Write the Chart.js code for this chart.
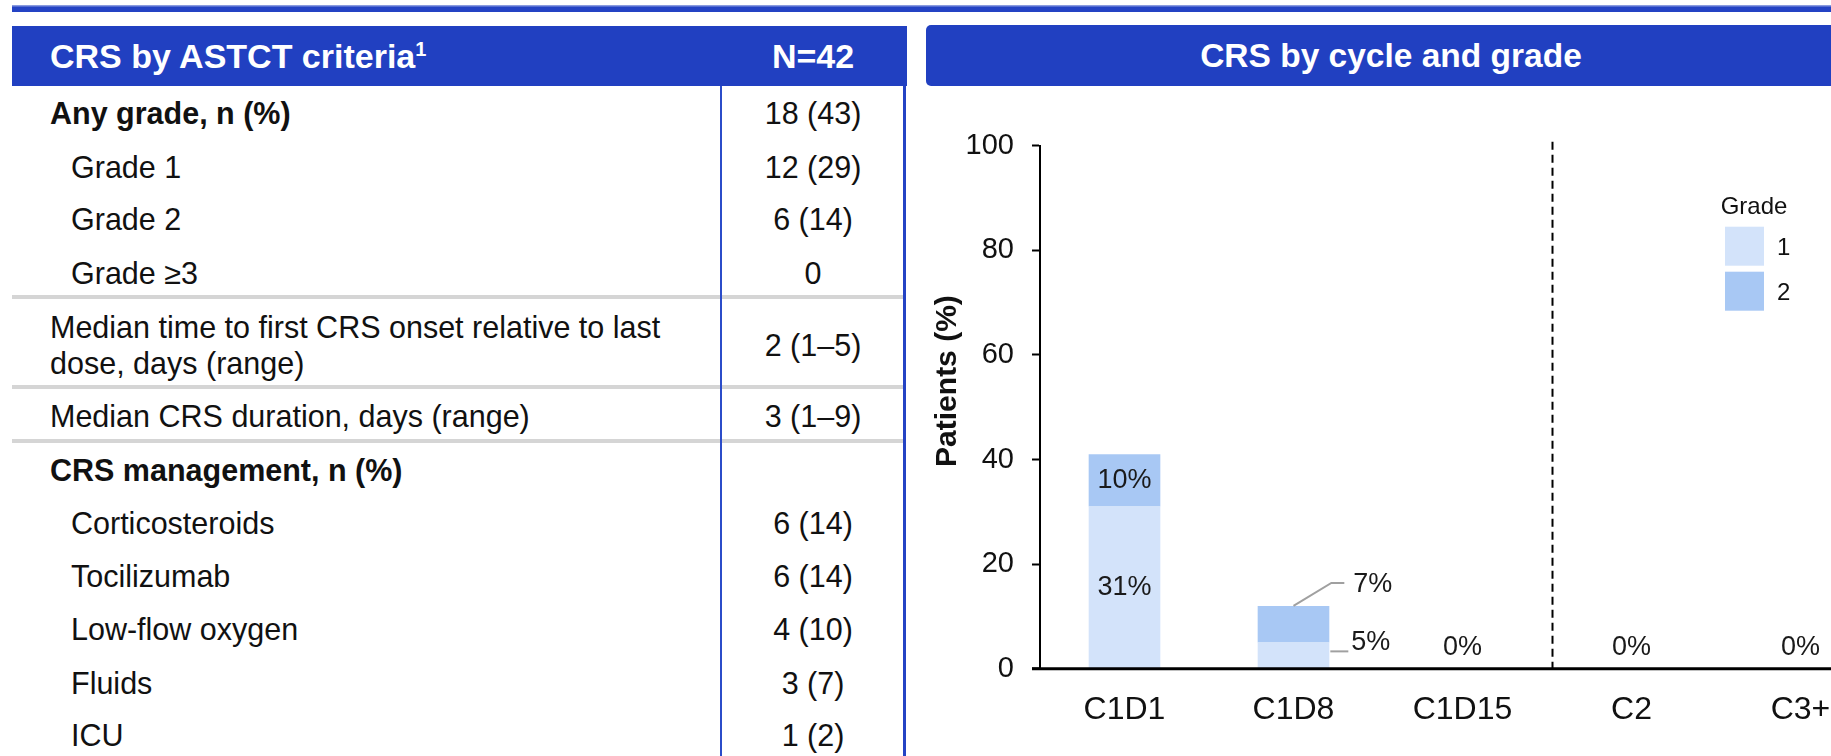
<!DOCTYPE html>
<html>
<head>
<meta charset="utf-8">
<script src="https://cdn.jsdelivr.net/npm/chart.js@4.4.1/dist/chart.umd.min.js"></script>
<style>
  html, body { margin: 0; padding: 0; width: 1831px; height: 756px; overflow: hidden; background: #fff;
    font-family: "Liberation Sans", Arial, sans-serif; color: #111; }
  .abs { position: absolute; }
  #topRule { left: 12px; top: 5px; width: 1819px; height: 7px;
    background: linear-gradient(#a3b1e6 0, #2443c4 35%, #2443c4 100%); }
  .hdr { background: #2140c1; color: #fff; font-weight: bold; font-size: 34px; display: flex; align-items: center; }
  #tblHead { left: 12px; top: 26px; width: 895px; height: 60px; }
  #tblHead .lbl { position: absolute; left: 38px; }
  #tblHead .lbl sup { font-size: 20px; vertical-align: 12px; line-height: 0; }
  #tblHead .n { position: absolute; left: 710px; width: 182px; text-align: center; }
  #chartHead { left: 926px; top: 25px; width: 930px; height: 61px; border-radius: 5px; justify-content: center; font-size: 33.5px; }
  .rule { left: 12px; width: 892px; height: 4px; background: #d5d5d5; }
  #colLine { left: 720px; top: 86px; width: 2px; height: 670px; background: #2b4cc9; }
  #tblEdge { left: 903px; top: 86px; width: 3px; height: 670px; background: #2443c4; }
  .row { position: absolute; left: 0; width: 904px; font-size: 30.5px; line-height: 36.3px; }
  .row .lbl { position: absolute; top: 0; }
  .row .val { position: absolute; top: 0; left: 722px; width: 182px; text-align: center; }
  #chartBox { left: 920px; top: 90px; }
</style>
</head>
<body>
<div id="topRule" class="abs"></div>
<div id="tblHead" class="abs hdr"></div>
<div id="chartHead" class="abs hdr"></div>
<div id="tableBody"></div>
<div id="colLine" class="abs"></div>
<div id="tblEdge" class="abs"></div>
<div id="chartBox" class="abs"><canvas id="crsChart" width="965" height="666"></canvas></div>

<script>
// ---- Table content ----
const tableTitle = 'CRS by ASTCT criteria';
const tableTitleRef = '1';
const tableColumnHead = 'N=42';
const rowLabels = [
  'Any grade, n (%)',
  'Grade 1',
  'Grade 2',
  'Grade \u22653',
  'Median time to first CRS onset relative to last dose, days (range)',
  'Median CRS duration, days (range)',
  'CRS management, n (%)',
  'Corticosteroids',
  'Tocilizumab',
  'Low-flow oxygen',
  'Fluids',
  'ICU'
];
const rowValues = ['18 (43)', '12 (29)', '6 (14)', '0', '2 (1\u20135)', '3 (1\u20139)', '',
  '6 (14)', '6 (14)', '4 (10)', '3 (7)', '1 (2)'];

// ---- Chart content ----
const panelTitle = 'CRS by cycle and grade';
const cycles = ['C1D1', 'C1D8', 'C1D15', 'C2', 'C3+'];
const grade1Pct = [31, 5, 0, 0, 0];
const grade2Pct = [10, 7, 0, 0, 0];
const gradeLabels = ['1', '2'];
const legendTitle = 'Grade';
const yTickValues = [0, 20, 40, 60, 80, 100];
const yAxisTitle = 'Patients (%)';

// ---- Table layout (row styling and vertical placement) ----
const rowBold = [true, false, false, false, false, false, true, false, false, false, false, false];
const rowIndent = [50, 71, 71, 71, 50, 50, 50, 71, 71, 71, 71, 71];
const rowCenters = [113, 166.7, 219, 272.7, 344.8, 416, 470, 522.7, 576, 629, 682.7, 735];
const rowLines = [1, 1, 1, 1, 2, 1, 1, 1, 1, 1, 1, 1];
const ruleCenters = [296.7, 386.7, 440.7];

// header bars
const th = document.getElementById('tblHead');
const thLbl = document.createElement('span');
thLbl.className = 'lbl';
thLbl.textContent = tableTitle;
const sup = document.createElement('sup');
sup.textContent = tableTitleRef;
thLbl.appendChild(sup);
th.appendChild(thLbl);
const thN = document.createElement('span');
thN.className = 'n';
thN.textContent = tableColumnHead;
th.appendChild(thN);
document.getElementById('chartHead').textContent = panelTitle;

// body rows
const body = document.getElementById('tableBody');
ruleCenters.forEach(c => {
  const r = document.createElement('div');
  r.className = 'abs rule';
  r.style.top = (c - 2) + 'px';
  body.appendChild(r);
});
rowLabels.forEach((label, i) => {
  const h = 36.3 * rowLines[i];
  const row = document.createElement('div');
  row.className = 'row';
  row.style.top = (rowCenters[i] - h / 2) + 'px';
  row.style.height = h + 'px';
  const l = document.createElement('div');
  l.className = 'lbl';
  l.style.left = rowIndent[i] + 'px';
  l.style.width = (710 - rowIndent[i]) + 'px';
  if (rowBold[i]) l.style.fontWeight = 'bold';
  l.textContent = label;
  row.appendChild(l);
  const v = document.createElement('div');
  v.className = 'val';
  v.style.top = (h / 2 - 18.15) + 'px';
  v.textContent = rowValues[i];
  row.appendChild(v);
  body.appendChild(row);
});

// ---- Chart ----
const FONT = '"Liberation Sans", Arial, sans-serif';
const gradeColors = ['#d3e3fa', '#a8c8f4'];
const series = [grade1Pct, grade2Pct];
const cycleBreak = 2.53; // divider between cycle 1 days and later cycles

// baseline, dashed divider and the rotated axis title
const axisLines = {
  id: 'axisLines',
  afterDatasetsDraw(chart) {
    const { ctx, chartArea, scales: { x, y } } = chart;
    const base = y.getPixelForValue(0);
    ctx.save();
    ctx.strokeStyle = '#000';
    ctx.lineWidth = 2;
    ctx.setLineDash([8, 5]);
    const dx = Math.round(x.getPixelForValue(cycleBreak)) + 0.5;
    ctx.beginPath();
    ctx.moveTo(dx, y.getPixelForValue(100) - 4);
    ctx.lineTo(dx, base);
    ctx.stroke();
    ctx.setLineDash([]);
    ctx.lineWidth = 3;
    ctx.beginPath();
    ctx.moveTo(chartArea.left - 8, base);
    ctx.lineTo(chart.width, base);
    ctx.stroke();

    // axis title, sitting a little above the middle of the axis
    ctx.translate(y.left + 28, y.getPixelForValue(55));
    ctx.rotate(-Math.PI / 2);
    ctx.font = 'bold 30px ' + FONT;
    ctx.fillStyle = '#111';
    ctx.textAlign = 'center';
    ctx.textBaseline = 'middle';
    ctx.fillText(yAxisTitle, 0, 0);
    ctx.restore();
  }
};

// percentage labels on the stacked segments
const segmentLabels = {
  id: 'segmentLabels',
  afterDatasetsDraw(chart) {
    const { ctx, scales: { y } } = chart;
    const base = y.getPixelForValue(0);
    ctx.save();
    ctx.font = '27px ' + FONT;
    ctx.fillStyle = '#1a1a1a';
    ctx.textBaseline = 'middle';
    cycles.forEach((c, i) => {
      const bars = series.map((s, k) => chart.getDatasetMeta(k).data[i]);
      const total = series.reduce((a, s) => a + s[i], 0);
      if (total === 0) {
        ctx.textAlign = 'center';
        ctx.fillText('0%', bars[0].x, base - 21);
        return;
      }
      const fits = series.every((s, k) => s[i] === 0 || Math.abs(bars[k].base - bars[k].y) > 45);
      if (fits) {
        ctx.textAlign = 'center';
        series.forEach((s, k) => {
          if (s[i] === 0) return;
          const b = bars[k];
          ctx.fillText(s[i] + '%', b.x, (b.y + b.base) / 2);
        });
        return;
      }
      // small segments: labels outside with leader lines
      ctx.textAlign = 'left';
      ctx.strokeStyle = '#a0a0a0';
      ctx.lineWidth = 2;
      const last = series.length - 1;
      series.forEach((s, k) => {
        if (s[i] === 0) return;
        const b = bars[k];
        const right = b.x + b.width / 2;
        ctx.beginPath();
        if (k === last) {
          const ty = b.y - 23;
          ctx.moveTo(b.x, b.y);
          ctx.lineTo(right + 2, ty);
          ctx.lineTo(right + 15, ty);
          ctx.stroke();
          ctx.fillText(s[i] + '%', right + 24, ty + 2);
        } else {
          const ly = (b.y + b.base) / 2 - 4;
          ctx.moveTo(right + 1, ly);
          ctx.lineTo(right + 19, ly);
          ctx.stroke();
          ctx.fillText(s[i] + '%', right + 22, ly - 9);
        }
      });
    });
    ctx.restore();
  }
};

// grade key in the upper right
const gradeKey = {
  id: 'gradeKey',
  afterDraw(chart) {
    const ctx = chart.ctx;
    ctx.save();
    ctx.fillStyle = '#111';
    ctx.textBaseline = 'middle';
    ctx.font = '24px ' + FONT;
    ctx.textAlign = 'center';
    ctx.fillText(legendTitle, 834, 117);
    ctx.textAlign = 'left';
    gradeLabels.forEach((g, k) => {
      const top = 136.7 + k * 45;
      ctx.fillStyle = gradeColors[k];
      ctx.fillRect(805, top, 39, 39);
      ctx.fillStyle = '#111';
      ctx.fillText(g, 857, top + 21.5);
    });
    ctx.restore();
  }
};

new Chart(document.getElementById('crsChart'), {
  type: 'bar',
  data: {
    labels: cycles,
    datasets: series.map((vals, k) => ({
      label: gradeLabels[k],
      data: vals,
      backgroundColor: gradeColors[k],
      borderWidth: 0,
      categoryPercentage: 1,
      barPercentage: 0.424
    }))
  },
  options: {
    responsive: false,
    animation: false,
    events: [],
    layout: { padding: { left: 0, right: 0, top: 55.7, bottom: 0 } },
    plugins: { legend: { display: false }, tooltip: { enabled: false } },
    scales: {
      x: {
        stacked: true,
        grid: { display: false, drawTicks: false },
        border: { display: false },
        ticks: { font: { size: 32, family: FONT }, color: '#111', padding: 22 },
        afterFit: s => { s.height = 87.3; }
      },
      y: {
        stacked: true,
        min: 0,
        max: 100,
        afterBuildTicks: s => { s.ticks = yTickValues.map(v => ({ value: v })); },
        grid: { drawOnChartArea: false, drawTicks: true, tickLength: 8, tickWidth: 2, tickColor: '#000' },
        border: { display: true, color: '#000', width: 2 },
        ticks: { font: { size: 29, family: FONT }, color: '#111', padding: 18 },
        title: { display: false },
        afterFit: s => { s.width = 120; }
      }
    }
  },
  plugins: [axisLines, segmentLabels, gradeKey]
});
</script>
</body>
</html>
